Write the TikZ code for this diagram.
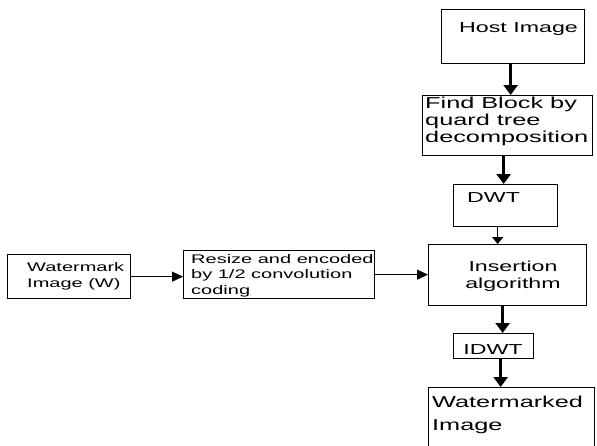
\documentclass[tikz,border=0pt]{standalone}
\usepackage{fontspec}
\newfontfamily\flowfont[FakeStretch=1.6]{Liberation Sans}
\usetikzlibrary{arrows.meta}

\begin{document}
\begin{tikzpicture}[x=1pt, y=-1pt]
  % Sizes of the text
  \def\rfont{\flowfont\fontsize{14.5}{17}\selectfont}
  \def\wfont{\flowfont\fontsize{15.8}{17}\selectfont}
  \def\lfont{\flowfont\fontsize{12.5}{15.5}\selectfont}
  %
  \tikzset{
    blk/.style={draw, line width=1.3pt, inner sep=0pt, anchor=north west},
    ltxt/.style={inner sep=0pt, anchor=base west, align=left},
    ctxt/.style={inner sep=0pt, anchor=base, align=center},
    bigarr/.style={line width=2.6pt, -{Triangle[width=14pt, length=10pt]}},
    smlarr/.style={line width=1.6pt, -{Triangle[width=11pt, length=7pt]}},
    sidearr/.style={line width=1.2pt, -{Triangle[width=10pt, length=11pt]}},
  }
  \useasboundingbox (0,0) rectangle (597,445);
  %
  %%% MAIN COLUMN %%%
  % (text nodes sit on the baseline of their last line)
  \node[blk, minimum width=143pt, minimum height=54pt] (host) at (441, 9) {};
  \node[ltxt, font=\rfont] (hostt) at (459, 32) {Host Image};
  %
  \node[blk, minimum width=170pt, minimum height=60pt] (find) at (422, 95) {};
  \node[ltxt, font=\wfont] (findt) at (425, 142) {Find Block by\\quard tree\\decomposition};
  %
  \node[blk, minimum width=104pt, minimum height=42pt] (dwt) at (453, 184) {};
  \node[ltxt, font=\rfont] (dwtt) at (467, 202.5) {DWT};
  %
  \node[blk, minimum width=158pt, minimum height=61pt] (ins) at (428, 244) {};
  \node[ctxt, font=\rfont] (inst) at (513, 288) {Insertion\\algorithm};
  %
  \node[blk, minimum width=80pt, minimum height=25pt] (idwt) at (453, 333) {};
  \node[ctxt, font=\rfont] (idwtt) at (493, 354) {IDWT};
  %
  \node[blk, minimum width=166pt, minimum height=70pt] (wmd) at (428, 387) {};
  \node[ltxt, font=\wfont] (wmdt) at (432, 430) {Watermarked\\[6pt]Image};
  %
  %%% LEFT BRANCH %%%
  \node[blk, minimum width=123pt, minimum height=44pt] (wmk) at (7, 254) {};
  \node[ltxt, font=\lfont] (wmkt) at (27, 287) {Watermark\\Image (W)};
  %
  \node[blk, minimum width=191pt, minimum height=48pt] (enc) at (183, 250) {};
  \node[ltxt, font=\lfont] (enct) at (191, 294) {Resize and encoded\\by 1/2 convolution\\coding};
  %
  %%% ARROWS %%%
  \draw[bigarr] ([xshift=-2.5pt]host.south) -- ([xshift=-2.5pt]host.south |- find.north);
  \draw[bigarr] ([xshift=-4pt]find.south) -- ([xshift=-4pt]find.south |- dwt.north);
  \draw[smlarr] ([xshift=-8pt]dwt.south) -- ([xshift=-8pt]dwt.south |- ins.north);
  \draw[bigarr] ([xshift=-5pt]ins.south) -- ([xshift=-5pt]ins.south |- idwt.north);
  \draw[bigarr] ([xshift=7pt]idwt.south) -- ([xshift=7pt]idwt.south |- wmd.north);
  %
  \draw[sidearr] (wmk.east) -- (wmk.east -| enc.west);
  \draw[sidearr] (enc.east) -- (enc.east -| ins.west);
\end{tikzpicture}
\end{document}
